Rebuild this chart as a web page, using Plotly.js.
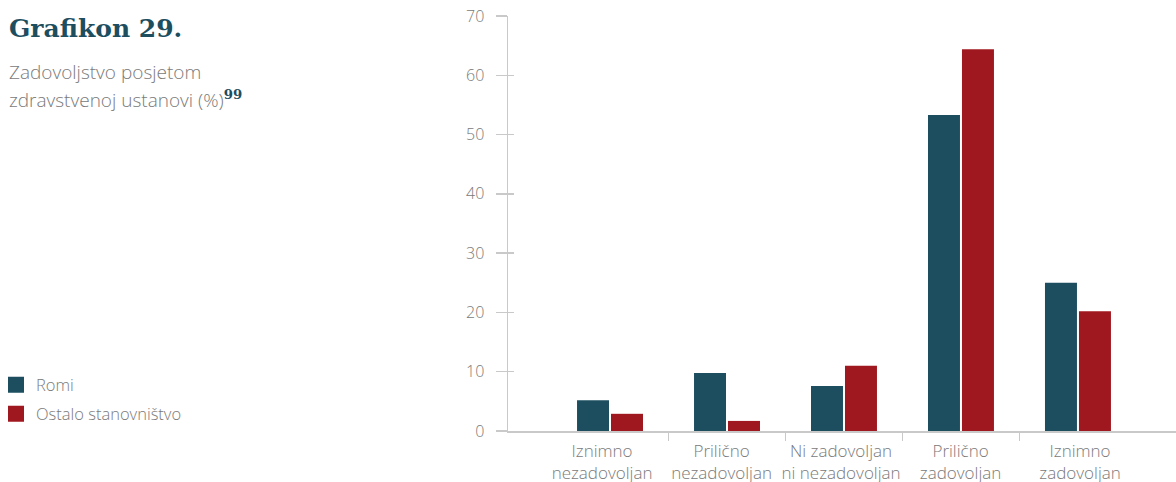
<!DOCTYPE html>
<html>
<head>
<meta charset="utf-8">
<script src="https://cdn.plot.ly/plotly-3.0.1.min.js"></script>
<style>html,body{margin:0;padding:0;background:#fff;}#chart{width:1176px;height:482px;}</style>
</head>
<body>
<div id="chart"></div>
<script>
const categories = ["Iznimno<br>nezadovoljan", "Prilično<br>nezadovoljan", "Ni zadovoljan<br>ni nezadovoljan", "Prilično<br>zadovoljan", "Iznimno<br>zadovoljan"];
const seriesNames = ["Romi", "Ostalo stanovništvo"];
const romi = [5.2, 9.8, 7.6, 53.3, 25.0];
const ostalo = [2.9, 1.7, 11.0, 64.4, 20.2];
const yTicks = [0, 10, 20, 30, 40, 50, 60, 70];

const C_ROMI = "#1d4e60";
const C_OST = "#a0181f";
const GRAY_TXT = "#7a7a7a";
const AXIS = "#c9c9c9";
const FONT = "Open Sans";

const idx = categories.map((c, i) => i);
const sepVals = categories.slice(1).map((c, i) => i + 0.5);

const traces = [
  {type: "bar", x: idx, y: romi, name: seriesNames[0], marker: {color: C_ROMI}, showlegend: false, hoverinfo: "y"},
  {type: "bar", x: idx, y: ostalo, name: seriesNames[1], marker: {color: C_OST}, showlegend: false, hoverinfo: "y"},
  {type: "scatter", mode: "markers", x: [null], y: [null], xaxis: "x2", yaxis: "y", name: seriesNames[0], legend: "legend",
   marker: {symbol: "square", size: 16, color: C_ROMI}},
  {type: "scatter", mode: "markers", x: [null], y: [null], xaxis: "x", yaxis: "y2", name: seriesNames[1], legend: "legend2",
   marker: {symbol: "square", size: 16, color: C_OST}}
];

const L = 508, T = 16, B = 51, W = 1176, H = 482;
const pw = W - L, ph = H - T - B;
const px2x = p => (p - L) / pw;
const py2y = p => (H - B - p) / ph;

const legendBase = {
  xref: "container", yref: "container",
  xanchor: "left", yanchor: "middle", bgcolor: "rgba(0,0,0,0)",
  font: {family: FONT, size: 16.5, color: GRAY_TXT, weight: 300},
  itemsizing: "trace", itemwidth: 30, borderwidth: 0, indentation: -4
};

const layout = {
  width: W, height: H,
  margin: {l: L, r: 0, t: T, b: B, pad: 0},
  paper_bgcolor: "#fff", plot_bgcolor: "#fff",
  font: {family: FONT, color: GRAY_TXT, size: 16, weight: 300},
  barmode: "group", bargap: 0.419, bargroupgap: 0.0588,
  xaxis: {
    type: "linear", range: [-0.872, 4.838], fixedrange: true,
    showgrid: false, zeroline: false,
    showline: true, linecolor: AXIS, linewidth: 1.5,
    tickmode: "array", tickvals: sepVals, showticklabels: false,
    ticks: "outside", ticklen: 8, tickwidth: 1.5, tickcolor: AXIS
  },
  xaxis2: {
    type: "linear", range: [-0.787, 4.803], overlaying: "x", anchor: "y", side: "bottom",
    showgrid: false, zeroline: false, showline: false,
    tickmode: "array", tickvals: idx, ticktext: categories,
    ticks: "", tickfont: {family: FONT, size: 17, color: GRAY_TXT, weight: 300},
    ticklabelstandoff: 8
  },
  yaxis: {
    range: [0, 70], fixedrange: true,
    showgrid: false, zeroline: false,
    showline: true, linecolor: AXIS, linewidth: 1.5,
    tickmode: "array", tickvals: yTicks,
    ticks: "outside", ticklen: 11, tickwidth: 1.5, tickcolor: AXIS,
    tickfont: {family: FONT, size: 16, color: GRAY_TXT, weight: 300},
    ticklabelstandoff: 8
  },
  yaxis2: {
    range: [0, 70], overlaying: "y", anchor: "x", side: "left",
    showgrid: false, zeroline: false, showline: false,
    tickmode: "array", tickvals: yTicks, showticklabels: false,
    ticks: "inside", ticklen: 6, tickwidth: 1.5, tickcolor: AXIS
  },
  legend: Object.assign({}, legendBase, {x: 0, y: 1 - 385 / H}),
  legend2: Object.assign({}, legendBase, {x: 0, y: 1 - 414 / H}),
  annotations: [
    {xref: "paper", yref: "paper", x: px2x(7), y: py2y(29), xanchor: "left", yanchor: "middle",
     showarrow: false, text: "<b>Grafikon 29.</b>",
     font: {family: "DejaVu Serif", size: 25, color: C_ROMI}},
    {xref: "paper", yref: "paper", x: px2x(7), y: py2y(72), xanchor: "left", yanchor: "middle",
     showarrow: false, text: "Zadovoljstvo posjetom",
     font: {family: FONT, size: 19, color: GRAY_TXT, weight: 300}},
    {xref: "paper", yref: "paper", x: px2x(7), y: py2y(100), xanchor: "left", yanchor: "middle",
     showarrow: false,
     text: "zdravstvenoj ustanovi (%)<sup><b><span style=\"font-family:'DejaVu Serif';fill:" + C_ROMI + "\">99</span></b></sup>",
     font: {family: FONT, size: 19, color: GRAY_TXT, weight: 300}}
  ]
};

Plotly.newPlot("chart", traces, layout, {staticPlot: true, displayModeBar: false});
</script>
</body>
</html>
